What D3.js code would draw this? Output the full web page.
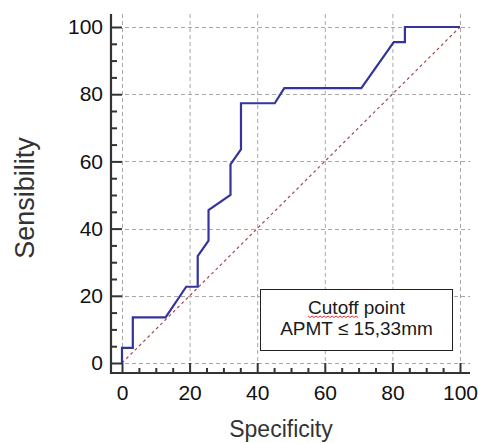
<!DOCTYPE html>
<html>
<head>
<meta charset="utf-8">
<script src="https://cdn.jsdelivr.net/npm/d3@7"></script>
<style>
  body { margin: 0; background: #fff; }
  svg { display: block; font-family: "Liberation Sans", Arial, sans-serif; }
</style>
</head>
<body>
<script>
// ROC curve
var specificity = [0, 0, 3.2, 3.2, 12.9, 19.0, 22.4, 22.4, 25.6, 25.6, 32.1, 32.1, 35.2, 35.2, 45.2, 48.0, 70.8, 80.4, 83.7, 83.7, 100];
var sensibility = [0, 4.5, 4.5, 13.6, 13.6, 22.7, 22.7, 31.8, 36.4, 45.5, 50.0, 59.1, 63.6, 77.3, 77.3, 81.8, 81.8, 95.5, 95.5, 100, 100];
var majorTicks = [0, 20, 40, 60, 80, 100];
var minorTicks = [5, 10, 15, 25, 30, 35, 45, 50, 55, 65, 70, 75, 85, 90, 95];
var legendLines = ["Cutoff point", "APMT \u2264 15,33mm"];

var W = 478, H = 443;
var x = d3.scaleLinear().domain([0, 100]).range([122, 460]);
var y = d3.scaleLinear().domain([0, 100]).range([363, 27]);
var axX = 111, axY = 373;   // axis lines sit a little outside the data box
var top_ = 14, right_ = 470;

var svg = d3.select("body").append("svg").attr("width", W).attr("height", H);

// grid
var grid = svg.append("g").attr("stroke", "#a8a8a8").attr("stroke-width", 1)
  .attr("stroke-dasharray", "4,3").attr("fill", "none");
grid.selectAll(".gx").data(majorTicks).enter().append("line")
  .attr("x1", function(d){ return x(d) + 0.5; }).attr("x2", function(d){ return x(d) + 0.5; })
  .attr("y1", top_).attr("y2", axY);
grid.selectAll(".gy").data(majorTicks).enter().append("line")
  .attr("y1", function(d){ return Math.round(y(d)) + 0.5; }).attr("y2", function(d){ return Math.round(y(d)) + 0.5; })
  .attr("x1", axX).attr("x2", right_);

// reference diagonal
svg.append("line")
  .attr("x1", x(0)).attr("y1", y(0)).attr("x2", x(100)).attr("y2", y(100))
  .attr("stroke", "#a84848").attr("stroke-width", 1.2).attr("stroke-dasharray", "3,3");

// legend box
var lx0 = 260, ly0 = 289, lw = 192, lh = 61;
svg.append("rect").attr("x", lx0 + 0.5).attr("y", ly0 + 0.5).attr("width", lw).attr("height", lh)
  .attr("fill", "#fff").attr("stroke", "#222").attr("stroke-width", 1);
var lt = svg.append("g").attr("font-size", 19).attr("fill", "#1a1a1a").attr("text-anchor", "middle");
lt.selectAll("text").data(legendLines).enter().append("text")
  .attr("x", lx0 + lw / 2 + 0.5).attr("y", function(d, i){ return 314 + i * 21; })
  .text(function(d){ return d; });
// spell-check squiggle under "Cutoff"
(function(){
  var t = lt.select("text").node();
  var start = t.getStartPositionOfChar(0).x, end = t.getEndPositionOfChar(5).x;
  var pts = [];
  for (var px = start, k = 0; px <= end; px += 2, k++) pts.push([px, 316 + (k % 2 ? 1.5 : 0)]);
  svg.append("path").attr("d", d3.line()(pts)).attr("fill", "none").attr("stroke", "#e0302a").attr("stroke-width", 1);
})();

// ROC curve
var pts = specificity.map(function(s, i){ return [s, sensibility[i]]; });
svg.append("path").datum(pts)
  .attr("d", d3.line().x(function(d){ return x(d[0]); }).y(function(d){ return y(d[1]); }))
  .attr("fill", "none").attr("stroke", "#34349c").attr("stroke-width", 2.2)
  .attr("stroke-linejoin", "miter");

// axes: inward ticks
function ticks(g) { g.select(".domain").remove(); g.selectAll("line").attr("stroke", "#333").attr("stroke-width", 2); }
svg.append("g").attr("transform", "translate(" + axX + ",0)")
  .call(d3.axisRight(y).tickValues(majorTicks).tickSize(11).tickFormat("")).call(ticks);
svg.append("g").attr("transform", "translate(" + axX + ",0)")
  .call(d3.axisRight(y).tickValues(minorTicks).tickSize(6).tickFormat("")).call(ticks);
svg.append("g").attr("transform", "translate(0," + axY + ")")
  .call(d3.axisTop(x).tickValues(majorTicks).tickSize(10).tickFormat("")).call(ticks);
svg.append("g").attr("transform", "translate(0," + axY + ")")
  .call(d3.axisTop(x).tickValues(minorTicks).tickSize(5).tickFormat("")).call(ticks);

// axis lines
svg.append("path").attr("d", "M" + axX + "," + top_ + "V" + axY + "H" + right_)
  .attr("fill", "none").attr("stroke", "#333").attr("stroke-width", 2.2);

// tick labels
var yl = svg.append("g").attr("transform", "translate(" + axX + ",0)")
  .call(d3.axisLeft(y).tickValues(majorTicks).tickSize(0).tickPadding(8));
yl.select(".domain").remove();
yl.selectAll("text").attr("font-size", 21).attr("fill", "#111").attr("font-family", "Liberation Sans, Arial, sans-serif");
var xl = svg.append("g").attr("transform", "translate(0," + axY + ")")
  .call(d3.axisBottom(x).tickValues(majorTicks).tickSize(0).tickPadding(12));
xl.select(".domain").remove();
xl.selectAll("text").attr("font-size", 21).attr("fill", "#111").attr("font-family", "Liberation Sans, Arial, sans-serif");

// axis titles
svg.append("text").attr("x", 281).attr("y", 437).attr("text-anchor", "middle")
  .attr("font-size", 23).attr("fill", "#333").text("Specificity");
svg.append("text").attr("transform", "translate(34,198) rotate(-90)").attr("text-anchor", "middle")
  .attr("font-size", 27).attr("fill", "#333").text("Sensibility");
</script>
</body>
</html>
